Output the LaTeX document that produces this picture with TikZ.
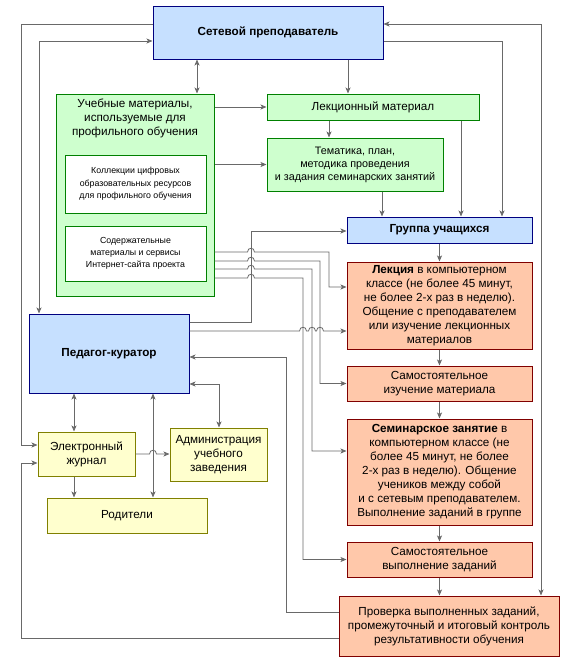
\documentclass[tikz,border=0pt]{standalone}
\usepackage{fontspec}
\setmainfont{Liberation Sans}
\usetikzlibrary{arrows.meta}
\definecolor{bluefill}{RGB}{198,224,255}
\definecolor{blueline}{RGB}{0,0,128}
\definecolor{greenfill}{RGB}{206,255,206}
\definecolor{greenline}{RGB}{0,128,0}
\definecolor{yellowfill}{RGB}{255,255,206}
\definecolor{yellowline}{RGB}{128,128,0}
\definecolor{redfill}{RGB}{255,200,170}
\definecolor{redline}{RGB}{128,0,0}
\definecolor{linkgray}{RGB}{105,105,105}
% a small bump where a line crosses another one
\newcommand{\hop}[2]{-- (#1-3.5,#2) .. controls (#1-3.5,#2-5) and (#1+3.5,#2-5) .. (#1+3.5,#2)}
\begin{document}
\begin{tikzpicture}
[ x=1pt, y=-1pt, line width=0.8pt
, box/.style={rectangle, draw, line width=1pt, inner sep=0pt, align=center, font=\fontsize{11.7}{14}\selectfont}
, bluebox/.style={box, draw=blueline, fill=bluefill}
, greenbox/.style={box, draw=greenline, fill=greenfill}
, whitebox/.style={box, draw=greenline, fill=white, font=\fontsize{8.8}{12.3}\selectfont}
, yellowbox/.style={box, draw=yellowline, fill=yellowfill}
, redbox/.style={box, draw=redline, fill=redfill}
, link/.style={draw=linkgray, -{Stealth[length=6pt,width=5pt,inset=1.5pt]}}
, twoway/.style={draw=linkgray, {Stealth[length=6pt,width=5pt,inset=1.5pt]}-{Stealth[length=6pt,width=5pt,inset=1.5pt]}}
]
\useasboundingbox (0,0) rectangle (561,659);
% Top:
\node (teacher) [bluebox, minimum width=230pt, minimum height=53pt] at (268,32.5) {\textbf{Сетевой преподаватель}};
% Materials:
\node (mat) [greenbox, minimum width=158pt, minimum height=202pt] at (135,195) {};
\node (mattxt) [align=center, inner sep=0pt, font=\fontsize{11.7}{14}\selectfont] at (135,118) {Учебные материалы,\\используемые для\\профильного обучения};
\node (coll) [whitebox, minimum width=141pt, minimum height=58pt] at (135.5,184) {Коллекции цифровых\\образовательных ресурсов\\для профильного обучения};
\node (site) [whitebox, minimum width=141pt, minimum height=55pt] at (135.5,253.5) {Содержательные\\материалы и сервисы\\Интернет-сайта проекта};
\node (lect) [greenbox, minimum width=212pt, minimum height=26pt] at (373,107) {Лекционный материал};
\node (topic) [greenbox, minimum width=176pt, minimum height=53pt, font=\fontsize{10.8}{13}\selectfont] at (355,164.5) {Тематика, план,\\методика проведения\\и задания семинарских занятий};
% Lessons:
\node (group) [bluebox, minimum width=185pt, minimum height=26pt] at (439.5,230) {\textbf{Группа учащихся}};
\node (lecture) [redbox, minimum width=185pt, minimum height=87pt] at (439.5,305.5) {\textbf{Лекция} в компьютерном\\классе (не более 45 минут,\\не более 2-х раз в неделю).\\Общение с преподавателем\\или изучение лекционных\\материалов};
\node (self1) [redbox, minimum width=185pt, minimum height=35pt] at (439.5,383.5) {Самостоятельное\\изучение материала};
\node (sem) [redbox, minimum width=185pt, minimum height=106pt] at (439.5,472) {\textbf{Семинарское занятие} в\\компьютерном классе (не\\более 45 минут, не более\\2-х раз в неделю). Общение\\учеников между собой\\и с сетевым преподавателем.\\Выполнение заданий в группе};
\node (self2) [redbox, minimum width=185pt, minimum height=35pt] at (439.5,559.5) {Самостоятельное\\выполнение заданий};
\node (check) [redbox, minimum width=220pt, minimum height=60pt] at (449,626) {Проверка выполненных заданий,\\промежуточный и итоговый контроль\\результативности обучения};
% Curator side:
\node (ped) [bluebox, minimum width=160pt, minimum height=79pt] at (109,353.5) {\textbf{Педагог-куратор}};
\node (journal) [yellowbox, minimum width=97pt, minimum height=44pt] at (86.5,454) {Электронный\\журнал};
\node (admin) [yellowbox, minimum width=97pt, minimum height=53pt] at (218.5,454.5) {Администрация\\учебного\\заведения};
\node (parents) [yellowbox, minimum width=160pt, minimum height=35pt] at (127,515.5) {Родители};
% Links of the network teacher:
\draw [twoway] (teacher.south -| 197,0) -- (mat.north -| 197,0);
\draw [link] (teacher.south -| 348,0) -- (lect.north -| 348,0);
\draw [link] (teacher.east |- 0,41) -| (group.north -| 502,0);
\draw [twoway] (teacher.east |- 0,24) -| (check.north -| 541,0);
\draw [link] (teacher.west |- 0,24) -| (21,445) -- (journal.west |- 0,445);
\draw [twoway] (teacher.west |- 0,41) -| (ped.north -| 39,0);
% Materials:
\draw [link] (mat.east |- lect.west) -- (lect.west);
\draw [link] (mat.east |- topic.west) -- (topic.west);
\draw [link] (lect.south -| 329,0) -- (topic.north -| 329,0);
\draw [link] (topic.south -| 382,0) -- (group.north -| 382,0);
\draw [link] (lect.south -| 461,0) -- (group.north -| 461,0);
\draw [link] (mat.east |- 0,252) \hop{251}{252} -| (329,287) -- (lecture.west |- 0,287);
\draw [link] (mat.east |- 0,261) \hop{251}{261} -| (320,383.5) -- (self1.west);
\draw [link] (mat.east |- 0,269) \hop{251}{269} -| (312,451) -- (sem.west |- 0,451);
\draw [link] (mat.east |- 0,278) \hop{251}{278} -| (303,559.5) -- (self2.west);
% Curator:
\draw [link] (ped.east |- 0,322) -| (251,231) -- (group.west |- 0,231);
\draw [link] (ped.east |- 0,331) \hop{303}{331} \hop{312}{331} \hop{320}{331} -- (lecture.west |- 0,331);
\draw [link] (check.west |- 0,612) -| (286,357) -- (ped.east |- 0,357);
\draw [twoway] (ped.east |- 0,384) -| (admin.north -| 219,0);
\draw [twoway] (ped.south -| 74,0) -- (journal.north -| 74,0);
\draw [twoway] (ped.south -| 153,0) -- (parents.north -| 153,0);
\draw [link] (journal.east |- 0,454) \hop{153}{454} -- (admin.west |- 0,454);
\draw [link] (journal.south -| 74,0) -- (parents.north -| 74,0);
\draw [link] (check.west |- 0,638) -| (21,463) -- (journal.west |- 0,463);
% Lessons, top to bottom:
\draw [link] (group.south) -- (lecture.north);
\draw [link] (lecture.south) -- (self1.north);
\draw [link] (self1.south) -- (sem.north);
\draw [link] (sem.south) -- (self2.north);
\draw [link] (self2.south) -- (self2.south |- check.north);
\end{tikzpicture}
\end{document}
